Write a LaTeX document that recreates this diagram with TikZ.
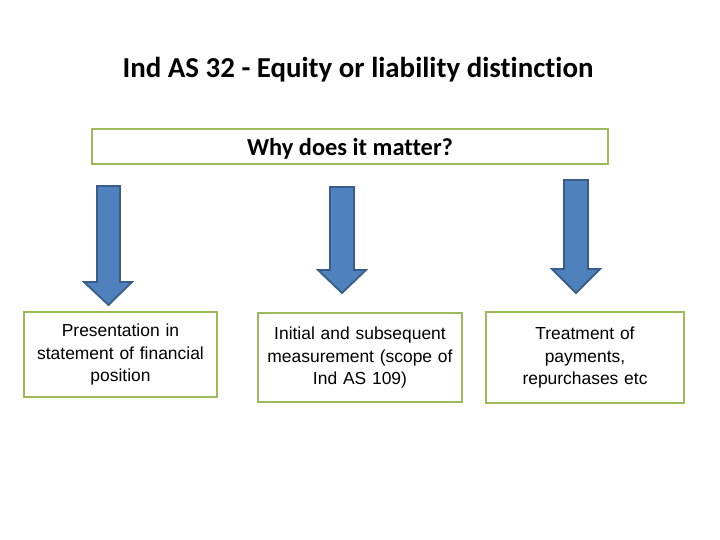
\documentclass[tikz,border=0pt]{standalone}
\usepackage{fontspec}
\setmainfont{Liberation Sans}
\newfontfamily\calibri[Ligatures=NoCommon]{Carlito}
\usepackage{tikz}
\usetikzlibrary{positioning}
\definecolor{boxgreen}{HTML}{9BBB59}
\definecolor{arrowblue}{HTML}{4F81BD}
\definecolor{arrowedge}{HTML}{385D8A}

\begin{document}
\begin{tikzpicture}[x=1bp,y=-1bp,
box/.style={
rectangle,
draw=boxgreen,
line width=2.5bp,
inner sep=0pt,
align=center,
font=\fontsize{17.5}{22.5}\selectfont
},
blockarrow/.style={draw=arrowedge,fill=arrowblue,line width=1.8bp,line join=miter}]

\useasboundingbox (0,0) rectangle (720,540);
\node (title) at (358,69.5) {\calibri\bfseries\fontsize{29}{33}\selectfont Ind AS 32 - Equity or liability distinction};
\node (why) [box,minimum width=516bp,minimum height=35bp] at (350,146.5) {};
\node (whytext) at ([yshift=-2.5bp]why.center) {\calibri\bfseries\fontsize{24.5}{28}\selectfont Why does it matter?};
\node (present) [box,minimum width=193bp,minimum height=85bp,text width=185bp] at (120.5,354.5) {\raisebox{-2bp}{\parbox{185bp}{\centering Presentation in\\statement of financial\\position}}};
\node (measure) [box,minimum width=204bp,minimum height=89bp,text width=196bp] at (360,357.5) {Initial and subsequent\\measurement (scope of\\Ind AS 109)};
\node (treat) [box,minimum width=198bp,minimum height=91bp,text width=190bp] at (585,357.5) {Treatment of\\payments,\\repurchases etc};
% the three block arrows
\draw[blockarrow] (97,186) -- (120,186) -- (120,282) -- (132,282) -- (108.5,305) -- (84,282) -- (97,282) -- cycle;
\draw[blockarrow] (330,187) -- (354,187) -- (354,270) -- (366,270) -- (342,293) -- (318,270) -- (330,270) -- cycle;
\draw[blockarrow] (564,180) -- (588,180) -- (588,269) -- (600,269) -- (576,293) -- (552,269) -- (564,269) -- cycle;
\end{tikzpicture}
\end{document}
